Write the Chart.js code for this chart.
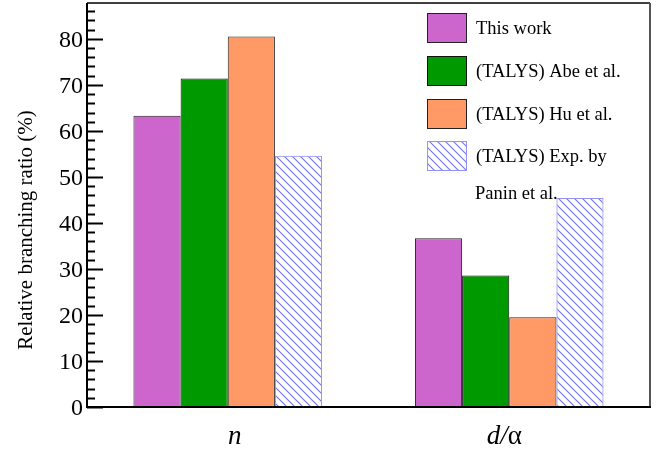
<!DOCTYPE html>
<html>
<head>
<meta charset="utf-8">
<script src="https://cdn.jsdelivr.net/npm/chart.js@4/dist/chart.umd.min.js"></script>
<style>
  html, body { margin: 0; padding: 0; background: #fff; }
  #wrap { width: 662px; height: 455px; }
</style>
</head>
<body>
<div id="wrap"><canvas id="c" width="662" height="455"></canvas></div>
<script>
// Decay channels on the x axis
const categories = ["n", "d/α"];
// Relative branching ratios (%) per source
const thisWork = [63.3, 36.7];
const abeTalys = [71.4, 28.6];
const huTalys = [80.5, 19.5];
const paninExp = [54.6, 45.4];
const seriesNames = ["This work", "(TALYS) Abe et al.", "(TALYS) Hu et al.", "(TALYS) Exp. by"];
const yTickValues = [0, 10, 20, 30, 40, 50, 60, 70, 80];

const SERIF = '"Liberation Serif", "DejaVu Serif", serif';
const canvas = document.getElementById('c');
const ctx = canvas.getContext('2d');

function hatchPattern(color) {
  const t = document.createElement('canvas');
  t.width = 8; t.height = 8;
  const g = t.getContext('2d');
  g.strokeStyle = color;
  g.lineWidth = 1.1;
  g.beginPath();
  g.moveTo(-1, -1); g.lineTo(9, 9);
  g.moveTo(-1, 7); g.lineTo(1, 9);
  g.moveTo(7, -1); g.lineTo(9, 1);
  g.stroke();
  return ctx.createPattern(t, 'repeat');
}

const hatch = hatchPattern('#7373ec');

const styles = [
  { bg: '#cc66cc', border: '#222' },
  { bg: '#009900', border: '#111' },
  { bg: '#ff9966', border: '#222' },
  { bg: hatch, border: '#9494f6' }
];

// Frame, inward ticks, axis labels and legend
const decorations = {
  id: 'decorations',
  afterDraw(chart) {
    const { ctx, chartArea: a, scales } = chart;
    const y = scales.y, x = scales.x;
    ctx.save();

    // inward ticks on the left axis
    ctx.strokeStyle = '#000';
    ctx.lineWidth = 2;
    for (let v = 0; v <= y.max; v += 2) {
      const py = Math.round(y.getPixelForValue(v)) + 0.5;
      const len = (v % 10 === 0) ? 16 : 8;
      ctx.beginPath();
      ctx.moveTo(a.left, py);
      ctx.lineTo(a.left + len, py);
      ctx.stroke();
    }

    // tick labels
    ctx.fillStyle = '#000';
    ctx.font = '24px ' + SERIF;
    ctx.textAlign = 'right';
    ctx.textBaseline = 'middle';
    yTickValues.forEach(v => {
      ctx.fillText(String(v), a.left - 4, y.getPixelForValue(v) + 2);
    });

    // frame
    ctx.strokeStyle = '#000';
    ctx.lineWidth = 1.5;
    ctx.beginPath();
    ctx.moveTo(a.left, a.top); ctx.lineTo(a.right, a.top);
    ctx.stroke();
    ctx.strokeStyle = '#555';
    ctx.lineWidth = 2;
    ctx.beginPath();
    ctx.moveTo(a.right, a.top); ctx.lineTo(a.right, a.bottom);
    ctx.stroke();
    ctx.strokeStyle = '#000';
    ctx.lineWidth = 2;
    ctx.beginPath();
    ctx.moveTo(a.left, a.top); ctx.lineTo(a.left, a.bottom + 1);
    ctx.moveTo(a.left - 1, a.bottom); ctx.lineTo(a.right + 1, a.bottom);
    ctx.stroke();

    // y-axis title
    ctx.font = '21px ' + SERIF;
    ctx.textAlign = 'center';
    ctx.textBaseline = 'middle';
    ctx.save();
    ctx.translate(26, 230);
    ctx.rotate(-Math.PI / 2);
    ctx.fillText('Relative branching ratio (%)', 0, 0);
    ctx.restore();

    // category labels
    ctx.textBaseline = 'alphabetic';
    ctx.textAlign = 'center';
    const base = 444;
    const x0 = x.getPixelForValue(0) + 7;
    ctx.font = 'italic 27px ' + SERIF;
    ctx.fillText('n', x0, base);
    const x1 = x.getPixelForValue(1) - 5;
    const dPart = 'd/';
    const w1 = ctx.measureText(dPart).width;
    ctx.font = '27px ' + SERIF;
    const w2 = ctx.measureText('α').width;
    const sx = x1 - (w1 + w2) / 2;
    ctx.textAlign = 'left';
    ctx.font = 'italic 27px ' + SERIF;
    ctx.fillText(dPart, sx, base);
    ctx.font = '27px ' + SERIF;
    ctx.fillText('α', sx + w1, base);

    // legend
    const boxX = 427, boxW = 40, boxH = 30;
    const tops = [13, 56, 99, 141];
    ctx.font = '18.5px ' + SERIF;
    ctx.textBaseline = 'middle';
    ctx.textAlign = 'left';
    for (let i = 0; i < 4; i++) {
      const ty = tops[i];
      ctx.fillStyle = styles[i].bg;
      ctx.fillRect(boxX, ty, boxW, boxH);
      ctx.strokeStyle = styles[i].border;
      ctx.lineWidth = 1;
      ctx.strokeRect(boxX + 0.5, ty + 0.5, boxW - 1, boxH - 1);
      ctx.fillStyle = '#000';
      ctx.fillText(seriesNames[i], 476, ty + boxH / 2 + 1);
    }
    ctx.fillText('Panin et al.', 475, 194);

    ctx.restore();
  }
};

new Chart(canvas, {
  type: 'bar',
  data: {
    labels: categories,
    datasets: [thisWork, abeTalys, huTalys, paninExp].map((d, i) => ({
      label: seriesNames[i],
      data: d,
      backgroundColor: styles[i].bg,
      borderColor: styles[i].border,
      borderWidth: 1,
      borderSkipped: 'bottom',
      categoryPercentage: 0.67,
      barPercentage: 1.0
    }))
  },
  options: {
    responsive: false,
    animation: false,
    events: [],
    layout: { padding: { top: 3, right: 12, left: 0, bottom: 0 } },
    plugins: { legend: { display: false }, tooltip: { enabled: false } },
    scales: {
      x: {
        grid: { display: false, drawTicks: false },
        border: { display: false },
        ticks: { display: false },
        afterFit(s) { s.height = 48; }
      },
      y: {
        min: 0,
        max: 87.8,
        grid: { display: false, drawTicks: false },
        border: { display: false },
        afterFit(s) { s.width = 87; },
        ticks: { display: false, stepSize: 10, includeBounds: false }
      }
    }
  },
  plugins: [decorations]
});
</script>
</body>
</html>
